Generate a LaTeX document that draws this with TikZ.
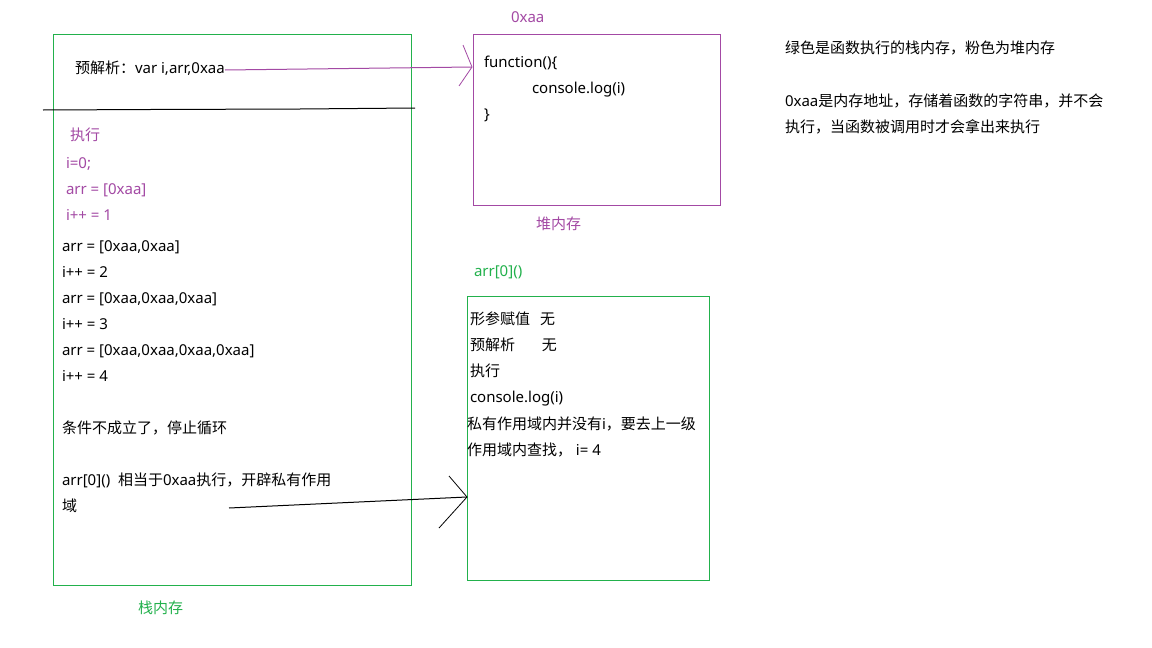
\documentclass[tikz,border=0pt]{standalone}
\usepackage{fontspec}
\setmainfont{Noto Sans CJK SC}
\newfontfamily\lat{Noto Sans}
\newcommand{\La}[1]{{\lat\fontsize{15}{17}\selectfont #1}}
\begin{document}
\begin{tikzpicture}[x=1pt,y=-1pt,
  every node/.style={inner sep=0pt,outer sep=0pt,font=\fontsize{15}{17}\selectfont},
  txt/.style={anchor=base west},
  pur/.style={color={rgb,255:red,163;green,73;blue,164}},
  grn/.style={color={rgb,255:red,34;green,177;blue,76}},
  boxline/.style={line width=1pt}]
\useasboundingbox[fill=white] (0,0) rectangle (1152,648);
% boxes
\draw[boxline,grn] (53,34) rectangle (411,585);
\draw[boxline,pur] (473,34) rectangle (720,205);
\draw[boxline,grn] (467,296) rectangle (709,580);
% divider line
\draw[line width=1pt] (43,110) -- (150,109.5) -- (300,109) -- (415,108);
% left box texts
\node[txt] (pre) at (75,73) {预解析：\La{var i,arr,0xaa}};
\node[txt,pur] (ex) at (70,140) {执行};
\node[txt,pur] (l1) at (66,168) {\La{i=0;}};
\node[txt,pur] (l2) at (66,194) {\La{arr = [0xaa]}};
\node[txt,pur] (l3) at (66,220) {\La{i++ = 1}};
\node[txt] (l4) at (62,251) {\La{arr = [0xaa,0xaa]}};
\node[txt] (l5) at (62,277) {\La{i++ = 2}};
\node[txt] (l6) at (62,303) {\La{arr = [0xaa,0xaa,0xaa]}};
\node[txt] (l7) at (62,329) {\La{i++ = 3}};
\node[txt] (l8) at (62,355) {\La{arr = [0xaa,0xaa,0xaa,0xaa]}};
\node[txt] (l9) at (62,381) {\La{i++ = 4}};
\node[txt] (l10) at (62,433) {条件不成立了，停止循环};
\node[txt] (l11) at (62,485) {\La{arr[0]()\ \ }相当于\La{0xaa}执行，开辟私有作用};
\node[txt] (l12) at (62,511) {域};
\node[txt,grn] (stack) at (138,613) {栈内存};
% heap
\node[txt,pur] (addr) at (511,22) {\La{0xaa}};
\node[txt] (f1) at (484,67) {\La{function()\{}};
\node[txt] (f2) at (532,93) {\La{console.log(i)}};
\node[txt] (f3) at (484,119) {\La{\}}};
\node[txt,pur] (heap) at (536,229) {堆内存};
% private scope box
\node[txt,grn] (call) at (474,276) {\La{arr[0]()}};
\node[txt] (p1) at (470,324) {形参赋值\ \ \ 无};
\node[txt] (p2) at (470,350) {预解析\ \ \ \ \ \ \ \ 无};
\node[txt] (p3) at (470,376) {执行};
\node[txt] (p4) at (470,402) {\La{console.log(i)}};
\node[txt] (p5) at (467,429) {私有作用域内并没有\La{i}，要去上一级};
\node[txt] (p6) at (467,455) {作用域内查找，\La{\ i= 4}};
% notes
\node[txt] (n1) at (785,53) {绿色是函数执行的栈内存，粉色为堆内存};
\node[txt] (n2) at (785,106) {\La{0xaa}是内存地址，存储着函数的字符串，并不会};
\node[txt] (n3) at (785,132) {执行，当函数被调用时才会拿出来执行};
% arrows
\coordinate (a1s) at (225,70);
\coordinate (a1t) at (472,67);
\coordinate (a1u) at (463,45);
\coordinate (a1d) at (459,86);
\draw[pur,line width=1pt] (a1s) -- (a1t);
\draw[pur,line width=0.8pt] (a1u) -- (a1t) -- (a1d);
\coordinate (a2s) at (229,508);
\coordinate (a2t) at (467,497);
\coordinate (a2u) at (449,476);
\coordinate (a2d) at (439,528);
\draw[line width=1pt] (a2s) -- (a2t);
\draw[line width=0.8pt] (a2u) -- (a2t) -- (a2d);
\end{tikzpicture}
\end{document}
